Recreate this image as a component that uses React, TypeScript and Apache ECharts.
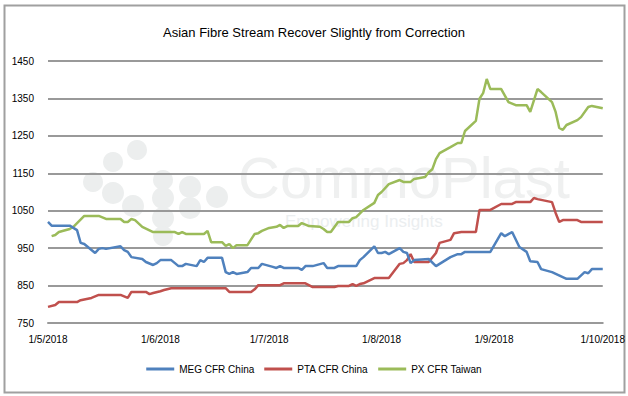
import React, { useEffect, useRef } from "react";
import * as echarts from "echarts";

const TITLE = "Asian Fibre Stream Recover Slightly from Correction";
const SERIES_NAMES = ["MEG CFR China", "PTA CFR China", "PX CFR Taiwan"];
const COLORS = ["#4f81bd", "#c0504d", "#9bbb59"];
const Y_MIN = 750;
const Y_MAX = 1450;
const Y_STEP = 100;
const X_MIN = "2018-05-01";
const X_MAX = "2018-10-01";

const megDates = ["2018-05-01","2018-05-02","2018-05-07","2018-05-09","2018-05-10","2018-05-11","2018-05-14","2018-05-15","2018-05-16","2018-05-17","2018-05-21","2018-05-22","2018-05-23","2018-05-24","2018-05-27","2018-05-28","2018-05-30","2018-05-31","2018-06-01","2018-06-04","2018-06-06","2018-06-07","2018-06-08","2018-06-11","2018-06-12","2018-06-13","2018-06-14","2018-06-18","2018-06-19","2018-06-20","2018-06-21","2018-06-22","2018-06-25","2018-06-26","2018-06-28","2018-06-29","2018-07-02","2018-07-03","2018-07-04","2018-07-05","2018-07-09","2018-07-10","2018-07-11","2018-07-13","2018-07-16","2018-07-17","2018-07-19","2018-07-20","2018-07-25","2018-07-26","2018-07-27","2018-07-30","2018-07-31","2018-08-01","2018-08-02","2018-08-03","2018-08-06","2018-08-07","2018-08-08","2018-08-09","2018-08-10","2018-08-14","2018-08-16","2018-08-20","2018-08-22","2018-08-23","2018-08-24","2018-08-31","2018-09-03","2018-09-04","2018-09-06","2018-09-08","2018-09-10","2018-09-11","2018-09-13","2018-09-14","2018-09-17","2018-09-21","2018-09-24","2018-09-26","2018-09-27","2018-09-28","2018-10-01"];
const megValues = [1020,1010,1010,998,964,961,937,948,950,948,955,945,940,926,921,913,905,910,918,918,902,902,908,902,918,913,924,924,886,881,886,881,886,897,897,908,900,897,902,897,897,892,902,902,910,897,897,902,902,918,926,955,937,937,940,934,950,940,937,910,918,921,902,926,934,934,940,940,990,982,993,953,940,915,913,894,886,868,868,886,883,894,894];

const ptaDates = ["2018-05-01","2018-05-03","2018-05-04","2018-05-09","2018-05-10","2018-05-13","2018-05-15","2018-05-21","2018-05-23","2018-05-24","2018-05-28","2018-05-29","2018-05-30","2018-06-01","2018-06-02","2018-06-04","2018-06-19","2018-06-20","2018-06-26","2018-06-27","2018-06-28","2018-07-04","2018-07-05","2018-07-11","2018-07-13","2018-07-19","2018-07-20","2018-07-23","2018-07-24","2018-07-25","2018-07-26","2018-07-27","2018-07-30","2018-08-03","2018-08-06","2018-08-07","2018-08-08","2018-08-09","2018-08-10","2018-08-14","2018-08-16","2018-08-17","2018-08-20","2018-08-21","2018-08-23","2018-08-27","2018-08-28","2018-08-31","2018-09-03","2018-09-06","2018-09-07","2018-09-11","2018-09-12","2018-09-13","2018-09-17","2018-09-18","2018-09-19","2018-09-20","2018-09-24","2018-09-25","2018-10-01"];
const ptaValues = [793,798,806,806,811,817,825,825,817,833,833,827,830,835,838,843,843,833,833,840,851,851,856,856,846,846,849,849,854,849,854,856,870,870,908,910,918,934,913,913,937,964,972,990,993,993,1052,1052,1068,1068,1073,1073,1084,1081,1073,1044,1020,1025,1025,1020,1020];

const pxDates = ["2018-05-02","2018-05-03","2018-05-04","2018-05-07","2018-05-08","2018-05-11","2018-05-15","2018-05-17","2018-05-21","2018-05-22","2018-05-23","2018-05-24","2018-05-25","2018-05-27","2018-05-30","2018-06-05","2018-06-06","2018-06-07","2018-06-08","2018-06-13","2018-06-14","2018-06-15","2018-06-18","2018-06-19","2018-06-20","2018-06-21","2018-06-22","2018-06-25","2018-06-27","2018-06-28","2018-06-29","2018-07-01","2018-07-03","2018-07-04","2018-07-05","2018-07-06","2018-07-09","2018-07-10","2018-07-12","2018-07-15","2018-07-16","2018-07-17","2018-07-18","2018-07-20","2018-07-23","2018-07-24","2018-07-25","2018-07-27","2018-07-30","2018-07-31","2018-08-01","2018-08-03","2018-08-06","2018-08-07","2018-08-09","2018-08-10","2018-08-13","2018-08-14","2018-08-15","2018-08-16","2018-08-17","2018-08-20","2018-08-22","2018-08-23","2018-08-24","2018-08-27","2018-08-28","2018-08-29","2018-08-30","2018-08-31","2018-09-03","2018-09-05","2018-09-07","2018-09-10","2018-09-11","2018-09-13","2018-09-14","2018-09-17","2018-09-18","2018-09-19","2018-09-20","2018-09-21","2018-09-24","2018-09-25","2018-09-27","2018-09-28","2018-10-01"];
const pxValues = [982,985,993,1001,1007,1036,1036,1028,1028,1020,1020,1028,1025,1007,993,993,988,993,988,988,996,966,966,956,961,950,958,958,988,990,996,1004,1007,1012,1004,1009,1009,1017,1009,1007,1001,993,993,1020,1020,1030,1033,1052,1071,1092,1100,1121,1132,1127,1127,1135,1140,1153,1161,1188,1204,1220,1231,1231,1263,1290,1349,1364,1402,1375,1375,1340,1332,1332,1314,1375,1367,1340,1314,1271,1266,1279,1292,1300,1327,1330,1324];

const FONT = "'Liberation Sans', Arial, sans-serif";

const watermarkDots: [number, number, number][] = [
  [137, 150, 10], [113, 162, 10], [93, 182, 10], [113, 193, 11], [133, 206, 11],
  [163, 180, 10], [190, 187, 11], [217, 197, 11], [163, 198, 11], [190, 208, 11],
  [163, 218, 11], [163, 236, 10],
];

export default function App() {
  const ref = useRef<HTMLDivElement>(null);
  useEffect(() => {
    if (!ref.current) return;
    const chart = echarts.init(ref.current, undefined, { renderer: "svg" });
    const toData = (dates: string[], vals: number[]) => dates.map((d, i) => [d, vals[i]]);
    const seriesData = [toData(megDates, megValues), toData(ptaDates, ptaValues), toData(pxDates, pxValues)];
    chart.setOption({
      animation: false,
      backgroundColor: "#ffffff",
      title: {
        text: TITLE,
        left: "center",
        top: 21,
        textStyle: { fontFamily: FONT, fontSize: 13, fontWeight: "normal", color: "#000" },
      },
      graphic: [
        {
          type: "rect",
          left: 2,
          top: 3,
          shape: { x: 0, y: 0, width: 620, height: 387 },
          style: { fill: "none", stroke: "#a0a0a0", lineWidth: 2 },
          silent: true,
          z: -10,
        },
        ...watermarkDots.map(([cx, cy, r]) => ({
          type: "circle",
          shape: { cx, cy, r },
          style: { fill: "#eceeee" },
          silent: true,
          z: -5,
        })),
        {
          type: "text",
          x: 238,
          y: 148,
          style: { text: "CommoPlast", fontSize: 58, fontFamily: "'Liberation Sans', sans-serif", fill: "#eff0f0" },
          silent: true,
          z: -5,
        },
        {
          type: "text",
          x: 285,
          y: 213,
          style: { text: "Empowering Insights", fontSize: 17, fontFamily: "'Liberation Sans', sans-serif", fill: "#ebeef0" },
          silent: true,
          z: -5,
        },
      ],
      legend: {
        data: SERIES_NAMES,
        top: 359,
        left: "center",
        icon: "rect",
        itemWidth: 28,
        itemHeight: 3,
        itemGap: 10,
        textStyle: { fontFamily: FONT, fontSize: 10, color: "#000" },
      },
      grid: { left: 48, right: 23, top: 61, bottom: 73, containLabel: false },
      xAxis: {
        type: "time",
        min: X_MIN,
        max: X_MAX,
        splitNumber: 5,
        axisLine: { show: true, lineStyle: { color: "#999999", width: 2 } },
        axisTick: { show: false },
        splitLine: { show: false },
        axisLabel: {
          fontFamily: FONT,
          fontSize: 10,
          color: "#000",
          margin: 11,
          showMinLabel: true,
          showMaxLabel: true,
          hideOverlap: false,
          formatter: (val: number) => {
            const d = new Date(val);
            return `${d.getDate()}/${d.getMonth() + 1}/${d.getFullYear()}`;
          },
        },
      },
      yAxis: {
        type: "value",
        min: Y_MIN,
        max: Y_MAX,
        interval: Y_STEP,
        axisLine: { show: false },
        axisTick: { show: false },
        splitLine: { show: true, lineStyle: { color: "#999999", width: 2 } },
        axisLabel: { fontFamily: FONT, fontSize: 10, color: "#000", margin: 14, formatter: (v: number) => String(v) },
      },
      series: SERIES_NAMES.map((name, i) => ({
        name,
        type: "line",
        data: seriesData[i],
        showSymbol: false,
        symbol: "none",
        lineStyle: { color: COLORS[i], width: 2.5 },
        itemStyle: { color: COLORS[i] },
        z: 3 + (i === 0 ? 2 : i === 1 ? 1 : 0),
      })),
    });
    return () => chart.dispose();
  }, []);
  return <div ref={ref} style={{ position: "fixed", left: 0, top: 0, width: 628, height: 396 }} />;
}
